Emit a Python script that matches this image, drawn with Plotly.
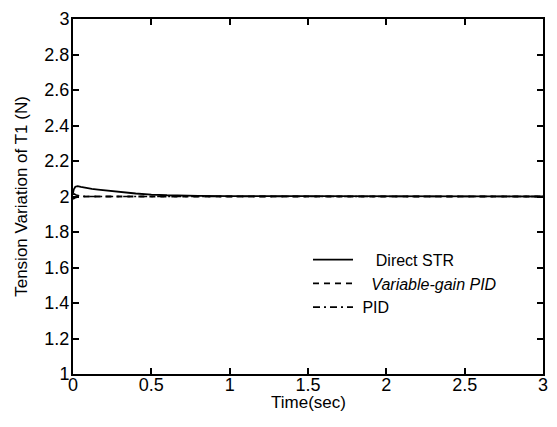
import plotly.graph_objects as go

# Time response of tension T1 for three controllers
t_str = [0.0, 0.005, 0.015, 0.03, 0.05, 0.08, 0.12, 0.16, 0.2, 0.25, 0.3, 0.4, 0.5, 0.6, 0.8, 1.0, 1.5, 2.0, 2.5, 3.0]
y_str = [2.02, 2.04, 2.055, 2.058, 2.054, 2.048, 2.043, 2.039, 2.035, 2.03, 2.025, 2.017, 2.011, 2.007, 2.004, 2.002, 2.002, 2.001, 2.001, 2.0]

t_vgpid = [0.0, 0.01, 0.03, 0.06, 0.1, 0.3, 0.6, 1.0, 1.5, 2.0, 2.5, 3.0]
y_vgpid = [1.985, 1.992, 1.998, 2.0, 2.0, 2.0, 2.0, 2.0, 2.0, 2.0, 2.0, 2.0]

t_pid = [0.0, 0.005, 0.02, 0.05, 0.1, 0.3, 0.6, 1.0, 1.5, 2.0, 2.5, 3.0]
y_pid = [2.01, 2.015, 2.008, 2.002, 2.0, 2.0, 2.0, 2.0, 2.0, 2.0, 2.0, 2.0]

x_ticks = [0, 0.5, 1, 1.5, 2, 2.5, 3]
x_tick_text = ["0", "0.5", "1", "1.5", "2", "2.5", "3"]
y_ticks = [1, 1.2, 1.4, 1.6, 1.8, 2, 2.2, 2.4, 2.6, 2.8, 3]
y_tick_text = ["1", "1.2", "1.4", "1.6", "1.8", "2", "2.2", "2.4", "2.6", "2.8", "3"]

font_family = "Liberation Sans, Arial, sans-serif"

fig = go.Figure()
fig.add_trace(go.Scatter(x=t_str, y=y_str, mode="lines", name="    Direct STR",
                         line=dict(color="black", width=1.8, dash="solid")))
fig.add_trace(go.Scatter(x=t_vgpid, y=y_vgpid, mode="lines", name="   <i>Variable-gain PID</i>",
                         line=dict(color="black", width=1.8, dash="6px,5px")))
fig.add_trace(go.Scatter(x=t_pid, y=y_pid, mode="lines", name=" PID",
                         line=dict(color="black", width=1.6, dash="7px,4px,2px,4px")))

axis_common = dict(
    showline=True, linecolor="black", linewidth=2, mirror="allticks",
    ticks="inside", ticklen=6, tickwidth=1.5, tickcolor="black",
    showgrid=False, zeroline=False,
    tickfont=dict(family=font_family, size=18, color="black"),
    title_font=dict(family=font_family, size=17, color="black"),
)

fig.update_xaxes(range=[0, 3], tickvals=x_ticks, ticktext=x_tick_text,
                 ticklabelstandoff=-7, **axis_common)
fig.update_yaxes(range=[1, 3], tickvals=y_ticks, ticktext=y_tick_text,
                 title_text="Tension Variation of T1 (N)", title_standoff=12,
                 ticklabelstandoff=-2, **axis_common)

# x-axis title placed close under the tick labels
fig.add_annotation(text="Time(sec)", xref="paper", yref="paper", x=0.5, y=0,
                   yshift=-28, yanchor="middle", showarrow=False,
                   font=dict(family=font_family, size=17, color="black"))

fig.update_layout(
    width=557, height=427,
    margin=dict(l=73, r=9, t=11, b=53),
    paper_bgcolor="white", plot_bgcolor="white",
    showlegend=True,
    legend=dict(x=0.5, y=0.37, xanchor="left", yanchor="top",
                bgcolor="rgba(0,0,0,0)", borderwidth=0,
                font=dict(family=font_family, size=16, color="black"),
                itemwidth=40, tracegroupgap=0),
)

fig.write_html("out.html")
